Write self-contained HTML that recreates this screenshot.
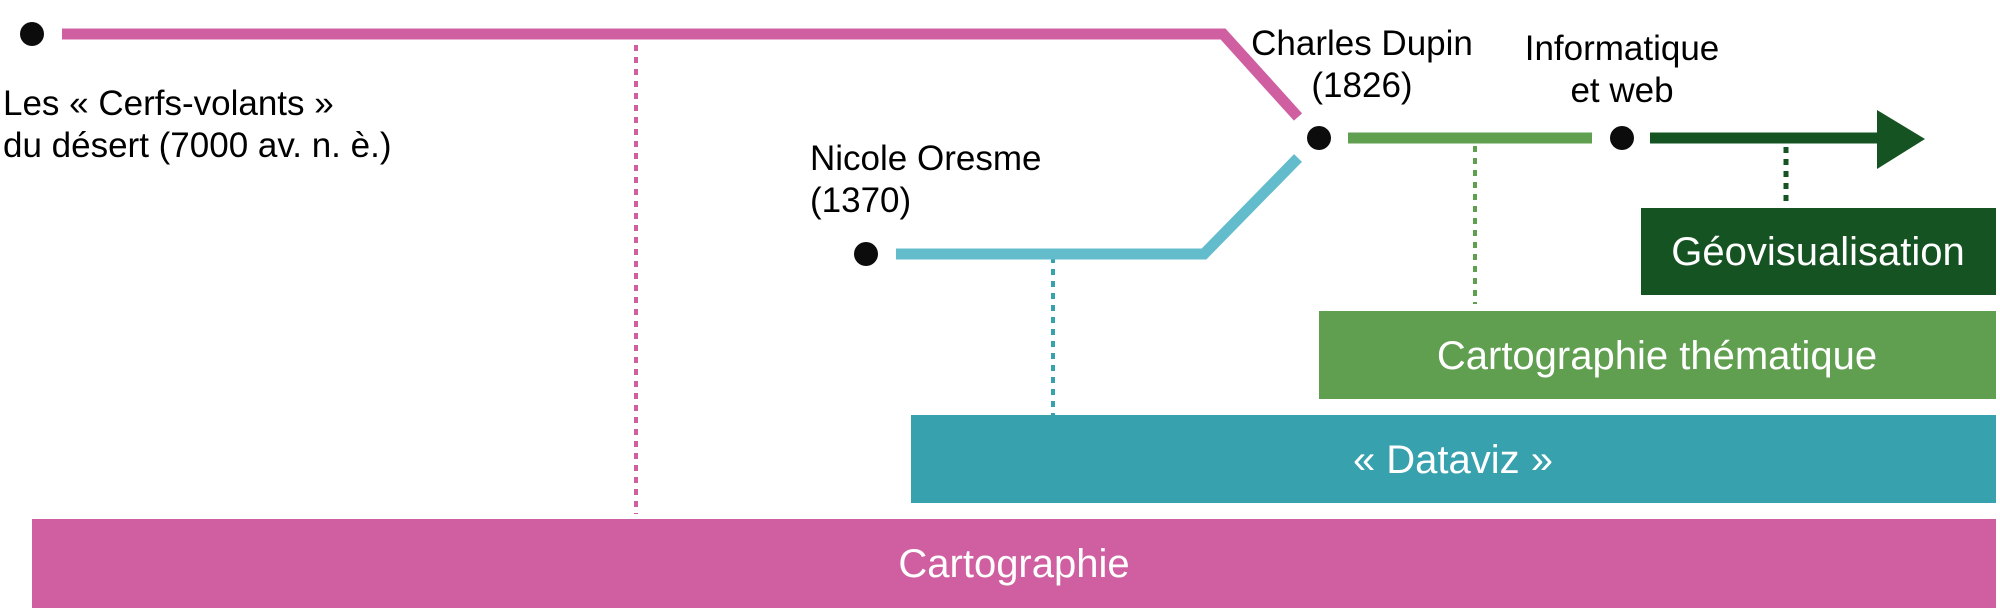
<!DOCTYPE html>
<html><head><meta charset="utf-8"><style>html,body{margin:0;padding:0;background:#fff;}svg{display:block}</style></head>
<body>
<svg width="2000" height="608" viewBox="0 0 2000 608" xmlns="http://www.w3.org/2000/svg" font-family="Liberation Sans, Arial, sans-serif">
<rect x="32" y="519" width="1964" height="89" fill="#cf5fa1"/>
<rect x="911" y="415" width="1085" height="88" fill="#37a1ae"/>
<rect x="1319" y="311" width="677" height="88" fill="#5f9f4f"/>
<rect x="1641" y="208" width="355" height="87" fill="#165323"/>
<text x="1014" y="577" font-size="40" fill="#fff" text-anchor="middle">Cartographie</text>
<text x="1453" y="473" font-size="40" fill="#fff" text-anchor="middle">« Dataviz »</text>
<text x="1657" y="369" font-size="40" fill="#fff" text-anchor="middle">Cartographie thématique</text>
<text x="1818" y="265" font-size="40" fill="#fff" text-anchor="middle">Géovisualisation</text>
<line x1="636" y1="45" x2="636" y2="514" stroke="#cf5fa1" stroke-width="4" stroke-dasharray="6,6"/>
<line x1="1053" y1="257" x2="1053" y2="415" stroke="#37a1ae" stroke-width="4" stroke-dasharray="6,6"/>
<line x1="1475" y1="146" x2="1475" y2="304" stroke="#5f9f4f" stroke-width="4" stroke-dasharray="6,6"/>
<line x1="1786" y1="147" x2="1786" y2="207" stroke="#165323" stroke-width="5" stroke-dasharray="6,6"/>
<polyline points="62,34 1223,34 1298,117" fill="none" stroke="#cf5fa1" stroke-width="11"/>
<polyline points="896,254 1204,254 1298,158" fill="none" stroke="#62bccb" stroke-width="11"/>
<line x1="1348" y1="138" x2="1592" y2="138" stroke="#5f9f4f" stroke-width="11"/>
<line x1="1650" y1="138" x2="1880" y2="138" stroke="#165323" stroke-width="11"/>
<polygon points="1877,110 1925,139 1877,169" fill="#165323"/>
<circle cx="32" cy="34" r="12" fill="#0c0c0c"/>
<circle cx="866" cy="254" r="12" fill="#0c0c0c"/>
<circle cx="1319" cy="138" r="12" fill="#0c0c0c"/>
<circle cx="1622" cy="138" r="12" fill="#0c0c0c"/>
<g font-size="35" fill="#000">
<text x="3" y="115">Les « Cerfs-volants »</text>
<text x="3" y="157">du désert (7000 av. n. è.)</text>
<text x="810" y="170">Nicole Oresme</text>
<text x="810" y="212">(1370)</text>
<text x="1362" y="55" text-anchor="middle">Charles Dupin</text>
<text x="1362" y="97" text-anchor="middle">(1826)</text>
<text x="1622" y="60" text-anchor="middle">Informatique</text>
<text x="1622" y="102" text-anchor="middle">et web</text>
</g>
</svg>
</body></html>
